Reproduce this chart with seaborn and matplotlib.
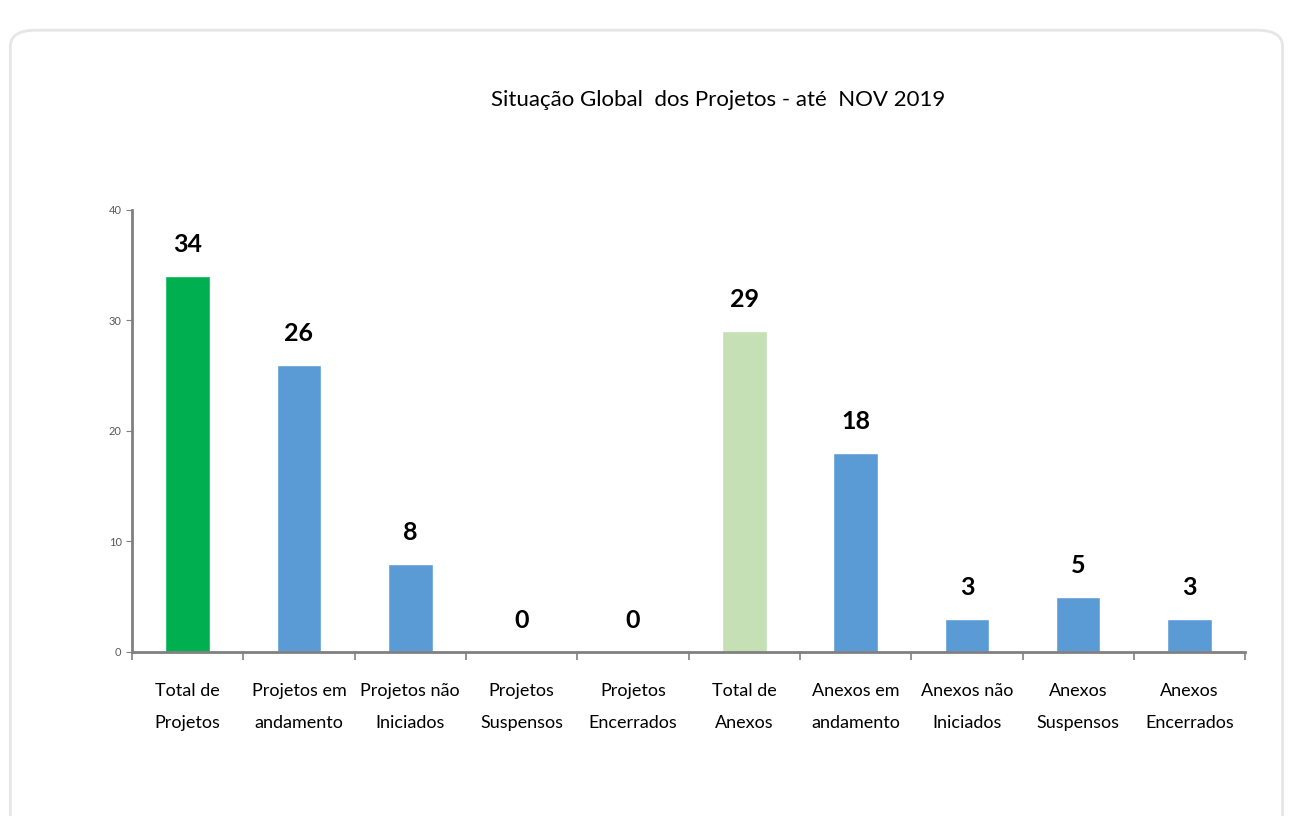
import matplotlib
matplotlib.use("Agg")
import matplotlib.pyplot as plt
import seaborn as sns
from matplotlib.patches import FancyBboxPatch
from matplotlib.ticker import FixedLocator

# Dados do gráfico
categorias = [
    "Total de\nProjetos", "Projetos em\nandamento", "Projetos não\nIniciados",
    "Projetos\nSuspensos", "Projetos\nEncerrados", "Total de\nAnexos",
    "Anexos em\nandamento", "Anexos não\nIniciados", "Anexos\nSuspensos",
    "Anexos\nEncerrados",
]
valores = [34, 26, 8, 0, 0, 29, 18, 3, 5, 3]
cores = ["#00B050", "#5B9BD5", "#5B9BD5", "#5B9BD5", "#5B9BD5",
         "#C5E0B4", "#5B9BD5", "#5B9BD5", "#5B9BD5", "#5B9BD5"]
titulo = "Situação Global  dos Projetos - até  NOV 2019"

sns.set_style("white")
plt.rcParams["font.family"] = ["Liberation Sans Narrow", "Lato", "DejaVu Sans"]
plt.rcParams["text.color"] = "black"
plt.rcParams["xtick.color"] = "black"

fig = plt.figure(figsize=(12.89, 8.16), dpi=100)

# moldura arredondada (corta embaixo)
frame = FancyBboxPatch((0.008, -0.2), 0.987, 1.163, boxstyle="round,pad=0,rounding_size=0.02",
                       transform=fig.transFigure, fill=False, edgecolor="#E6E6E6", linewidth=2)
fig.patches.append(frame)

ax = fig.add_axes([0.1024, 0.201, 0.8636, 0.542])
sns.barplot(x=categorias, y=valores, hue=categorias, palette=cores, legend=False,
            width=0.4, saturation=1, ax=ax)

ax.set_ylim(0, 40)
ax.set_xlim(-0.5, len(categorias) - 0.5)
ax.set_yticks([0, 10, 20, 30, 40])
ax.tick_params(axis="y", labelsize=8, labelcolor="#595959", length=4, color="#808080", left=True)
ax.tick_params(axis="x", which="major", length=0, labelsize=13, pad=22)
for lbl in ax.get_xticklabels():
    lbl.set_linespacing(2.3)
ax.xaxis.set_minor_locator(FixedLocator([i + 0.5 for i in range(-1, len(categorias))]))
ax.tick_params(axis="x", which="minor", length=6, color="#808080", width=1.2, bottom=True)

for s in ["top", "right"]:
    ax.spines[s].set_visible(False)
for s in ["left", "bottom"]:
    ax.spines[s].set_color("#808080")
    ax.spines[s].set_linewidth(2)

for i, v in enumerate(valores):
    ax.text(i, v + 1.8, str(v), ha="center", va="bottom", fontsize=18, fontweight="bold")

ax.set_xlabel("")
ax.set_ylabel("")
fig.text(0.557, 0.877, titulo, ha="center", va="center", fontsize=16)

fig.savefig("out.png", dpi=100)
